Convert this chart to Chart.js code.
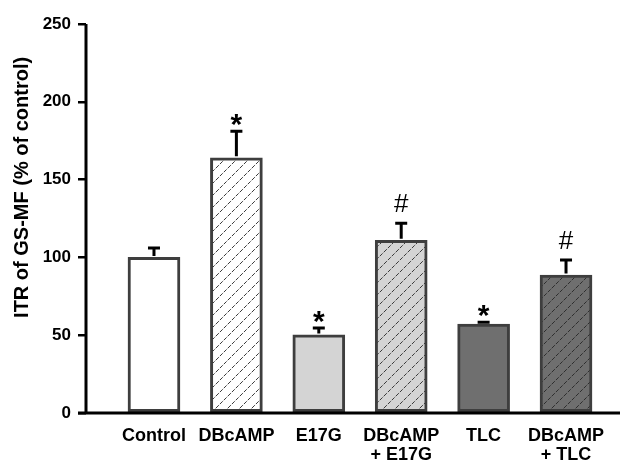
<!DOCTYPE html>
<html>
<head>
<meta charset="utf-8">
<script src="https://cdn.jsdelivr.net/npm/chart.js@4.4.0/dist/chart.umd.min.js"></script>
<style>
  html, body { margin: 0; padding: 0; background: #fff; }
  #wrap { width: 620px; height: 461px; }
</style>
</head>
<body>
<div id="wrap"><canvas id="c" width="620" height="461"></canvas></div>
<script>
const categories = ['Control', 'DBcAMP', 'E17G', ['DBcAMP', '+ E17G'], 'TLC', ['DBcAMP', '+ TLC']];
const means = [100, 164, 50.2, 111, 57.2, 88.7];
const errors = [6, 17, 4.4, 11, 1.2, 9.6];
const marks = ['', '*', '*', '#', '*', '#'];
const yTicks = [0, 50, 100, 150, 200, 250];
const yTitle = 'ITR of GS-MF (% of control)';

const FONT = 'Liberation Sans, Arial, sans-serif';
const EDGE = '#3e3e3e';

function hatch(bg, line) {
  const s = 12;
  const p = document.createElement('canvas');
  p.width = s; p.height = s;
  const g = p.getContext('2d');
  g.fillStyle = bg;
  g.fillRect(0, 0, s, s);
  g.strokeStyle = line;
  g.lineWidth = 1;
  g.setLineDash([4, 1.5]);
  g.beginPath();
  g.moveTo(0, s); g.lineTo(s, 0);
  g.moveTo(-2, 2); g.lineTo(2, -2);
  g.moveTo(s - 2, s + 2); g.lineTo(s + 2, s - 2);
  g.stroke();
  return document.getElementById('c').getContext('2d').createPattern(p, 'repeat');
}

const fills = [
  '#ffffff', hatch('#ffffff', '#3a3a3a'),
  '#d4d4d4', hatch('#d4d4d4', '#3a3a3a'),
  '#6f6f6f', hatch('#6f6f6f', '#2e2e2e'),
];

const errorBars = {
  id: 'errorBars',
  afterDatasetsDraw(chart) {
    const ctx = chart.ctx;
    const x = chart.scales.x, y = chart.scales.y;
    ctx.save();
    ctx.strokeStyle = '#000';
    ctx.lineWidth = 3;
    ctx.fillStyle = '#000';
    ctx.textAlign = 'center';
    ctx.textBaseline = 'alphabetic';
    means.forEach((m, i) => {
      const px = x.getPixelForValue(i);
      const top = y.getPixelForValue(m) - 1.5;
      const end = y.getPixelForValue(m + errors[i]);
      ctx.beginPath();
      ctx.moveTo(px, top); ctx.lineTo(px, end);
      ctx.moveTo(px - 6, end); ctx.lineTo(px + 6, end);
      ctx.stroke();
      if (marks[i] === '*') {
        ctx.font = 'bold 30px ' + FONT;
        ctx.fillText('*', px, end + 3);
      } else if (marks[i] === '#') {
        ctx.font = '26px ' + FONT;
        ctx.fillText('#', px, end - 11);
      }
    });
    // axis lines
    const a = chart.chartArea;
    ctx.lineWidth = 3;
    ctx.beginPath();
    ctx.moveTo(a.left, a.top); ctx.lineTo(a.left, a.bottom);
    ctx.moveTo(a.left - 8, a.bottom); ctx.lineTo(620, a.bottom);
    ctx.stroke();
    // y title
    ctx.translate(22, a.top + (a.bottom - a.top) * 0.42);
    ctx.rotate(-Math.PI / 2);
    ctx.textBaseline = 'middle';
    ctx.font = 'bold 20px ' + FONT;
    ctx.fillText(yTitle, 0, 0);
    ctx.restore();
  }
};

new Chart(document.getElementById('c'), {
  type: 'bar',
  data: {
    datasets: [{
      data: means.map((v, i) => ({ x: i, y: v })),
      backgroundColor: fills,
      borderColor: EDGE,
      borderWidth: 3,
      borderSkipped: false,
      barThickness: 52,
    }],
  },
  options: {
    responsive: false,
    animation: false,
    layout: { padding: { top: 24, right: 0, left: 0, bottom: 0 } },
    plugins: { legend: { display: false }, tooltip: { enabled: false } },
    scales: {
      x: {
        type: 'linear',
        offset: false,
        min: -0.825,
        max: 5.655,
        afterBuildTicks(s) { s.ticks = categories.map((c, i) => ({ value: i })); },
        afterFit(s) { s.height = 48; },
        grid: { display: false, drawTicks: false },
        border: { display: false },
        ticks: {
          autoSkip: false,
          maxRotation: 0,
          padding: 13,
          color: '#000',
          font: { family: FONT, size: 18, weight: 'bold', lineHeight: 1.08 },
          callback: (v) => categories[v],
        },
      },
      y: {
        min: 0,
        max: 250,
        afterBuildTicks(s) { s.ticks = yTicks.map((v) => ({ value: v })); },
        afterFit(s) { s.width = 86; },
        grid: {
          display: true,
          drawOnChartArea: false,
          drawTicks: true,
          tickLength: 8,
          tickColor: '#000',
          lineWidth: 2.5,
        },
        border: { display: false },
        ticks: {
          padding: 7,
          color: '#000',
          font: { family: FONT, size: 17, weight: 'bold' },
        },
      },
    },
  },
  plugins: [errorBars],
});
</script>
</body>
</html>
